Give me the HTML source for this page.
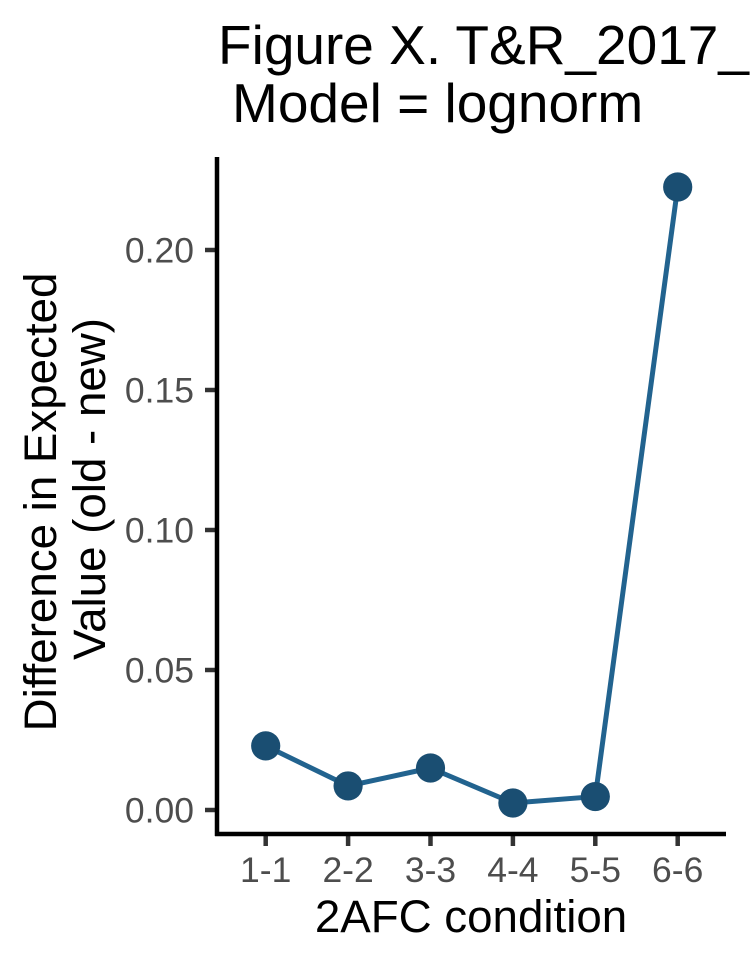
<!DOCTYPE html>
<html>
<head>
<meta charset="utf-8">
<style>
html,body{margin:0;padding:0;background:#fff;width:750px;height:963px;overflow:hidden}
svg{display:block}
text{font-family:"Liberation Sans",Arial,sans-serif}
</style>
</head>
<body>
<svg id="chart" width="750" height="963" viewBox="0 0 750 963" xmlns="http://www.w3.org/2000/svg"></svg>
<script>
const categories = ["1-1", "2-2", "3-3", "4-4", "5-5", "6-6"];
const diffValues = [0.0229, 0.0086, 0.0150, 0.0025, 0.0048, 0.2225];
const yTicks = [0, 0.05, 0.10, 0.15, 0.20];
const yTickLabels = ["0.00", "0.05", "0.10", "0.15", "0.20"];

const svg = document.getElementById('chart');
const NS = 'http://www.w3.org/2000/svg';
const xScale = i => 265.7 + i * 82.4;
const yScale = v => 810 - v * 2800;

function add(tag, attrs, parent, txt) {
  const el = document.createElementNS(NS, tag);
  for (const k in attrs) el.setAttribute(k, attrs[k]);
  if (txt !== undefined) el.textContent = txt;
  (parent || svg).appendChild(el);
  return el;
}

// Title
const t1 = add('text', {x: 218, y: 64, 'font-size': 55, fill: '#000'}, svg, 'Figure X. T&R_2017_');


const t2 = add('text', {x: 232, y: 122, 'font-size': 55, fill: '#000'}, svg, 'Model = lognorm');



// Y ticks
yTicks.forEach((v, i) => {
  const y = yScale(v);
  const tick = add('line', {x1: 205, x2: 217, y1: y, y2: y, stroke: '#333', 'stroke-width': 4.5});
  
  
  const label = add('text', {x: 194, y: y + 12.5, 'font-size': 35.5, fill: '#4d4d4d', 'text-anchor': 'end'}, svg, yTickLabels[i]);
  
  
});

// X ticks
categories.forEach((c, i) => {
  const x = xScale(i);
  const tick = add('line', {x1: x, x2: x, y1: 834, y2: 846, stroke: '#333', 'stroke-width': 4.5});
  
  
  const label = add('text', {x: x, y: 882, 'font-size': 35.5, fill: '#4d4d4d', 'text-anchor': 'middle'}, svg, c);
  
  
});

// Axis lines
const yAxis = add('line', {x1: 217, x2: 217, y1: 157, y2: 836, stroke: '#000', 'stroke-width': 4.5});


const xAxis = add('line', {x1: 215, x2: 726, y1: 834, y2: 834, stroke: '#000', 'stroke-width': 4.5});



// Axis titles
const xTitle = add('text', {x: 471, y: 932, 'font-size': 45.7, fill: '#000', 'text-anchor': 'middle'}, svg, '2AFC condition');


const yTitle1 = add('text', {transform: 'translate(56,502) rotate(-90)', 'font-size': 45.7, fill: '#000', 'text-anchor': 'middle'}, svg, 'Difference in Expected');


const yTitle2 = add('text', {transform: 'translate(105,489) rotate(-90)', 'font-size': 45.7, fill: '#000', 'text-anchor': 'middle'}, svg, 'Value (old - new)');



// Series line
const line = add('polyline', {
  points: diffValues.map((v, i) => xScale(i) + ',' + yScale(v)).join(' '),
  fill: 'none', stroke: '#22638f', 'stroke-width': 5, 'stroke-linejoin': 'round'
});



// Series points
diffValues.forEach((v, i) => {
  const pt = add('circle', {cx: xScale(i), cy: yScale(v), r: 14.6, fill: '#1a4e72'});
  
  
});
</script>
</body>
</html>
